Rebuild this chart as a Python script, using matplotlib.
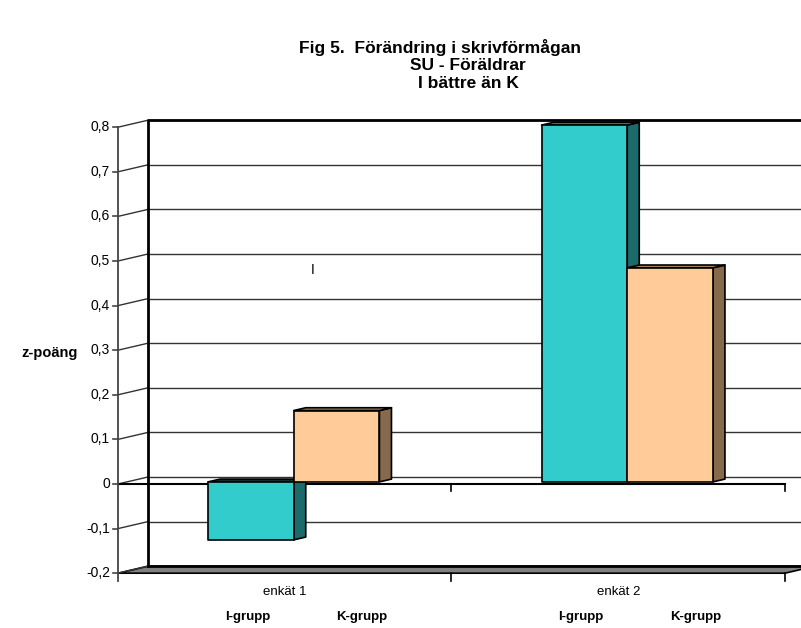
import matplotlib
matplotlib.use("Agg")
import matplotlib.pyplot as plt
from matplotlib.patches import Polygon

plt.rcParams["font.family"] = ["Liberation Sans", "DejaVu Sans"]

# data
categories = ["enkät 1", "enkät 2"]
groups = ["I-grupp", "K-grupp"]
i_grupp = [-0.13, 0.80]
k_grupp = [0.16, 0.48]
yticks = [-0.2, -0.1, 0, 0.1, 0.2, 0.3, 0.4, 0.5, 0.6, 0.7, 0.8]
ytick_labels = ["-0,2", "-0,1", "0", "0,1", "0,2", "0,3", "0,4", "0,5", "0,6", "0,7", "0,8"]

front_cols = ["#33CCCC", "#FFCC99"]
side_cols = ["#1B6B6B", "#866A4E"]
top_cols = ["#2A9494", "#A4835F"]

# oblique projection: depth d in [0, 1] shifts right and up
DX, DV = 0.09, 0.0157
GAP = 0.243
BW = (1 - 2 * GAP) / 2
D0, D1 = 0.3, 0.7
YMIN, YMAX = yticks[0], yticks[-1]


def p(x, v, d=0.0):
    return (x + d * DX, v + d * DV)


fig = plt.figure(figsize=(8.01, 6.28), dpi=100)
ax = fig.add_axes([0, 0, 1, 1])
ax.set_xlim(-0.3538, 2.048)
ax.set_ylim(-0.3229, 1.0852)
ax.axis("off")

ncat = len(categories)

# floor
floor = Polygon([p(0, YMIN, 0), p(ncat, YMIN, 0), p(ncat, YMIN, 1), p(0, YMIN, 1)],
                closed=True, facecolor="#808080", edgecolor="black", lw=1.2, zorder=1)
ax.add_patch(floor)

# back wall gridlines and side wall connectors
for t in yticks:
    if t > YMIN:
        xs, vs = zip(p(0, t, 1), p(ncat + 1, t, 1))
        ax.plot(xs, vs, color="#333333", lw=1.0, zorder=1)
    xs, vs = zip(p(0, t, 0), p(0, t, 1))
    ax.plot(xs, vs, color="#333333", lw=1.0, zorder=1)

# back wall frame
xs, vs = zip(p(0, YMIN, 1), p(0, YMAX, 1), p(ncat + 1, YMAX, 1))
ax.plot(xs, vs, color="black", lw=2.0, zorder=2)
xs, vs = zip(p(0, YMIN, 1), p(ncat + 1, YMIN, 1))
ax.plot(xs, vs, color="black", lw=2.0, zorder=2)

# value axis at front
ax.plot([0, 0], [YMIN - 0.018, YMAX], color="#444444", lw=1.3, zorder=3)
for t, lab in zip(yticks, ytick_labels):
    ax.plot([-0.016, 0], [t, t], color="#444444", lw=1.2, zorder=3)
    ax.text(-0.024, t, lab, ha="right", va="center", fontsize=10, zorder=3)

# category axis at zero and floor ticks
ax.plot([0, ncat], [0, 0], color="black", lw=1.5, zorder=2)
for k in range(1, ncat + 1):
    ax.plot([k, k], [0, -0.015], color="black", lw=1.2, zorder=2)
    ax.plot([k, k], [YMIN, YMIN - 0.018], color="black", lw=1.2, zorder=2)


def bar3d(x0, val, j):
    lo, hi = min(0, val), max(0, val)
    x1 = x0 + BW
    front = [p(x0, lo, D0), p(x1, lo, D0), p(x1, hi, D0), p(x0, hi, D0)]
    side = [p(x1, lo, D0), p(x1, lo, D1), p(x1, hi, D1), p(x1, hi, D0)]
    top = [p(x0, hi, D0), p(x1, hi, D0), p(x1, hi, D1), p(x0, hi, D1)]
    tc = top_cols[j] if val >= 0 else "#0E2E2E"
    for pts, c in ((side, side_cols[j]), (top, tc), (front, front_cols[j])):
        ax.add_patch(Polygon(pts, closed=True, facecolor=c, edgecolor="black",
                             lw=1.2, joinstyle="round", zorder=4))


for i in range(ncat):
    for j, vals in enumerate([i_grupp, k_grupp]):
        bar3d(i + GAP + j * BW, vals[i], j)

# labels under the chart
for i, cat in enumerate(categories):
    ax.text(i + 0.5, -0.242, cat, ha="center", va="center", fontsize=9.5)
    ax.text(i + 0.5 - 0.112, -0.298, groups[0], ha="center", va="center",
            fontsize=9.5, fontweight="bold")
    ax.text(i + 0.5 + 0.232, -0.298, groups[1], ha="center", va="center",
            fontsize=9.5, fontweight="bold")

ax.text(0.585, 0.48, "I", ha="center", va="center", fontsize=10)
ax.text(-0.204, 0.294, "z-poäng", ha="center", va="center", fontsize=10.5,
        fontweight="bold")

fig.text(440 / 801, 1 - 48 / 628, "Fig 5.  Förändring i skrivförmågan",
         ha="center", va="center", fontsize=12.5, fontweight="bold")
fig.text(468 / 801, 1 - 66 / 628, "SU - Föräldrar", ha="center", va="center",
         fontsize=12.5, fontweight="bold")
fig.text(468 / 801, 1 - 84 / 628, "I bättre än K", ha="center", va="center",
         fontsize=12.5, fontweight="bold")

fig.savefig("out.png", dpi=100)
